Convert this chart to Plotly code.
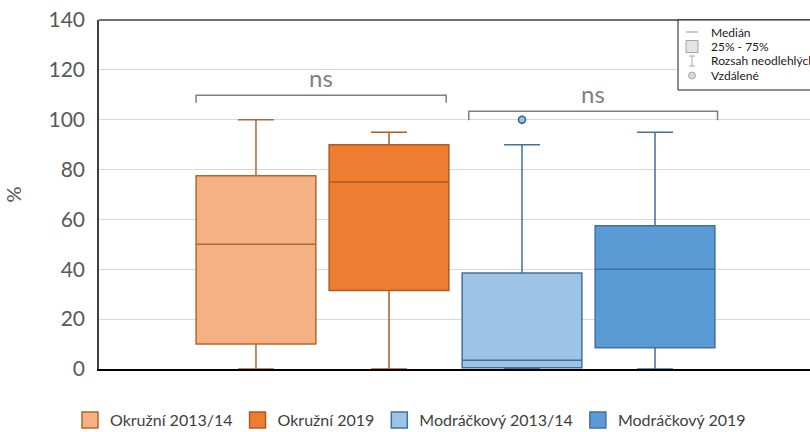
import plotly.graph_objects as go

# Box statistics (percent)
groups = ["Okružní 2013/14", "Okružní 2019", "Modráčkový 2013/14", "Modráčkový 2019"]
positions = [0, 1, 2, 3]
q1 = [10, 31.5, 0.5, 8.5]
median = [50, 75, 3.5, 40]
q3 = [77.5, 90, 38.5, 57.5]
lower_whisker = [0, 0, 0, 0]
upper_whisker = [100, 95, 90, 95]

# Outliers (group index, value)
outlier_group = [2]
outlier_value = [100]

fill_colors = ["#F4B183", "#ED7D31", "#9DC3E6", "#5B9BD5"]
line_colors = ["#B4662E", "#AE5A21", "#41719C", "#41719C"]

# Significance brackets
bracket_x0 = [-0.45, 1.60]
bracket_x1 = [1.43, 3.47]
bracket_y = [109.8, 103.4]
bracket_drop = [3.0, 3.6]
bracket_label = ["ns", "ns"]

y_ticks = [0, 20, 40, 60, 80, 100, 120, 140]

# Pixel geometry of the plotting area
L, T, R, B = 99, 20, 810, 369
W, H = 810, 432


def px(x):
    return (x - L) / (R - L)


def py(y):
    return (B - y) / (B - T)


fig = go.Figure()

for i, g in enumerate(groups):
    fig.add_trace(go.Box(
        x=[positions[i]],
        q1=[q1[i]], median=[median[i]], q3=[q3[i]],
        lowerfence=[lower_whisker[i]], upperfence=[upper_whisker[i]],
        width=0.9, whiskerwidth=0.3,
        fillcolor=fill_colors[i],
        line=dict(color=line_colors[i], width=1.5),
        boxpoints=False, showlegend=False, name=g,
        hoverinfo="skip",
    ))

fig.add_trace(go.Scatter(
    x=[positions[k] for k in outlier_group], y=outlier_value,
    mode="markers",
    marker=dict(size=7, color="#9DC3E6", line=dict(color="#2F5F8F", width=1.5)),
    showlegend=False, hoverinfo="skip",
))

# Legend entries as square swatches
for i, g in enumerate(groups):
    fig.add_trace(go.Scatter(
        x=[None], y=[None], mode="markers", name=g,
        marker=dict(symbol="square", size=16, color=fill_colors[i],
                    line=dict(color=line_colors[i], width=1.5)),
    ))

shapes = []
annotations = []

# Brackets with "ns" labels
for x0, x1, y, d, lab in zip(bracket_x0, bracket_x1, bracket_y, bracket_drop, bracket_label):
    shapes.append(dict(type="path", xref="x", yref="y",
                       path=f"M {x0},{y - d} L {x0},{y} L {x1},{y} L {x1},{y - d}",
                       line=dict(color="#7F7F7F", width=1.5)))
    annotations.append(dict(x=(x0 + x1) / 2, y=y, xref="x", yref="y",
                            text=lab, showarrow=False, yanchor="bottom", yshift=1,
                            font=dict(size=24, color="#7F7F7F", family="Lato")))

# Top border of the plotting area
shapes.append(dict(type="line", xref="paper", yref="paper", x0=0, x1=1, y0=1, y1=1,
                   line=dict(color="#404040", width=1.5)))

# Key box in the upper right corner
shapes.append(dict(type="rect", xref="paper", yref="paper",
                   x0=px(678), x1=px(830), y0=py(90), y1=py(20),
                   fillcolor="white", line=dict(color="#202020", width=1)))
key_items = ["Medián", "25% - 75%", "Rozsah neodlehlých hodnot", "Vzdálené"]
key_y = [32, 46.5, 61, 75.5]
for txt, yy in zip(key_items, key_y):
    annotations.append(dict(x=px(709), y=py(yy), xref="paper", yref="paper",
                            text=txt, showarrow=False, xanchor="left", yanchor="middle",
                            font=dict(size=12, color="#1A1A1A", family="Lato")))
# key symbols
shapes.append(dict(type="line", xref="paper", yref="paper",
                   x0=px(686), x1=px(698), y0=py(32), y1=py(32),
                   line=dict(color="#A6A6A6", width=1.2)))
shapes.append(dict(type="rect", xref="paper", yref="paper",
                   x0=px(686), x1=px(698), y0=py(52.5), y1=py(40.5),
                   fillcolor="#E4E4E4", line=dict(color="#A6A6A6", width=1)))
shapes.append(dict(type="path", xref="paper", yref="paper",
                   path=(f"M {px(689)},{py(56)} L {px(695)},{py(56)} "
                         f"M {px(692)},{py(56)} L {px(692)},{py(66)} "
                         f"M {px(689)},{py(66)} L {px(695)},{py(66)}"),
                   line=dict(color="#A6A6A6", width=1)))
shapes.append(dict(type="circle", xref="paper", yref="paper",
                   x0=px(688.5), x1=px(695.5), y0=py(79), y1=py(72),
                   fillcolor="#D9D9D9", line=dict(color="#A6A6A6", width=1)))

fig.update_layout(
    width=W, height=H,
    margin=dict(l=L, r=W - R, t=T, b=H - B, autoexpand=False),
    paper_bgcolor="white", plot_bgcolor="white",
    font=dict(family="Lato", color="#595959"),
    xaxis=dict(range=[-1.18, 4.165], showticklabels=False, showgrid=False,
               zeroline=False, showline=True, linecolor="#000000", linewidth=1.5,
               ticks=""),
    yaxis=dict(range=[0, 140], tickvals=y_ticks, showgrid=True,
               gridcolor="#D9D9D9", gridwidth=1, zeroline=False,
               showline=True, linecolor="#404040", linewidth=1.5,
               tickfont=dict(size=21, color="#595959"), ticklabelstandoff=8,
               title=dict(text="%", font=dict(size=20, color="#595959"), standoff=22)),
    legend=dict(orientation="h", xref="container", x=70 / W, xanchor="left",
                yref="container", y=1 - 403 / H, yanchor="top",
                font=dict(size=16, color="#404040"), itemwidth=30,
                bgcolor="rgba(0,0,0,0)", traceorder="normal"),
    shapes=shapes, annotations=annotations,
)

fig.write_html("out.html")
